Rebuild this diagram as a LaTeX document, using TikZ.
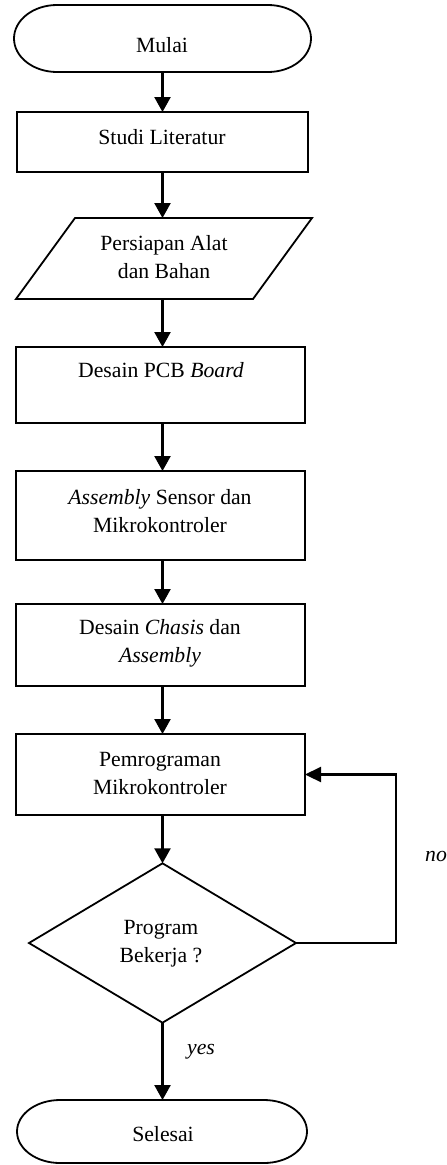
\documentclass[tikz,border=0pt]{standalone}
\usepackage{fontspec}
\setmainfont{Liberation Serif}
\usetikzlibrary{arrows.meta,calc}
\newcommand{\ls}{\rule[-9pt]{0pt}{25pt}}
\begin{document}
\begin{tikzpicture}[x=1pt,y=1pt,
  shapeline/.style={draw=black, line width=1.8pt, line join=miter},
  holder/.style={inner sep=0pt, outer sep=0pt, minimum width=#1},
  procbox/.style={draw=black, line width=1.8pt, inner sep=0pt, outer sep=0pt},
  arr/.style={line width=2.4pt, -{Triangle[width=16pt,length=15pt]}},
  flow/.style={line width=2.2pt},
  txt/.style={font=\fontsize{21.7}{28}\selectfont, align=center, inner sep=0pt},
  itxt/.style={font=\fontsize{21.7}{28}\selectfont\itshape, inner sep=0pt}
]
\fill[white] (0,0) rectangle (447,-1165);
\useasboundingbox (0,0) rectangle (447,-1165);

\coordinate (axis) at (162.5,0);
\coordinate (loopx) at (396,0);

% Mulai (terminator)
\node[holder=297, minimum height=67] (mulai) at (162.5,-38.5) {};
\draw[shapeline] ([xshift=43pt]mulai.north west) -- ([xshift=-43pt]mulai.north east)
  arc[start angle=90, end angle=-90, x radius=43pt, y radius=33.5pt]
  -- ([xshift=43pt]mulai.south west)
  arc[start angle=270, end angle=90, x radius=43pt, y radius=33.5pt] -- cycle;
\node[txt, anchor=base] (mulaiT) at (162,-52.5) {Mulai};

% Studi Literatur
\node[procbox, minimum width=291, minimum height=60] (studi) at (162.5,-142) {};
\node[txt, anchor=base] (studiT) at (162,-144) {Studi Literatur};

% Persiapan (parallelogram)
\node[holder=296, minimum height=81] (pers) at (164,-258.5) {};
\draw[shapeline] ([xshift=59pt]pers.north west) -- (pers.north east)
  -- ([xshift=-59pt]pers.south east) -- (pers.south west) -- cycle;
\node[txt] (persT) at (164,-261) {Persiapan Alat\ls\\dan Bahan\ls};

% Desain PCB Board
\node[procbox, minimum width=289, minimum height=76] (pcb) at (160.5,-385) {};
\node[txt, anchor=base] (pcbT) at (161,-377.7) {Desain PCB \textit{Board}};

% Assembly Sensor
\node[procbox, minimum width=289, minimum height=89] (asm) at (160.5,-515.5) {};
\node[txt] (asmT) at (160,-514.5) {\textit{Assembly} Sensor dan\ls\\Mikrokontroler\ls};

% Desain Chasis
\node[procbox, minimum width=289, minimum height=82] (chs) at (160.5,-645) {};
\node[txt] (chsT) at (160,-645) {Desain \textit{Chasis} dan\ls\\\textit{Assembly}\ls};

% Pemrograman
\node[procbox, minimum width=289, minimum height=81] (pem) at (160.5,-774.5) {};
\node[txt] (pemT) at (160,-776.5) {Pemrograman\ls\\Mikrokontroler\ls};

% Decision
\node[holder=267, minimum height=159.4] (dec) at (162.5,-943) {};
\draw[shapeline] (dec.north) -- (dec.east) -- (dec.south) -- (dec.west) -- cycle;
\node[txt] (decT) at (161,-945) {Program\ls\\Bekerja ?\ls};

% Selesai (terminator)
\node[holder=290, minimum height=63] (sel) at (162,-1131.5) {};
\draw[shapeline] ([xshift=43pt]sel.north west) -- ([xshift=-43pt]sel.north east)
  arc[start angle=90, end angle=-90, x radius=43pt, y radius=31.5pt]
  -- ([xshift=43pt]sel.south west)
  arc[start angle=270, end angle=90, x radius=43pt, y radius=31.5pt] -- cycle;
\node[txt, anchor=base] (selT) at (163,-1141.7) {Selesai};

% connectors
\draw[arr] (axis |- mulai.south) -- (axis |- studi.north);
\draw[arr] (axis |- studi.south) -- (axis |- pers.north);
\draw[arr] (axis |- pers.south) -- (axis |- pcb.north);
\draw[arr] (axis |- pcb.south) -- (axis |- asm.north);
\draw[arr] (axis |- asm.south) -- (axis |- chs.north);
\draw[arr] (axis |- chs.south) -- (axis |- pem.north);
\draw[arr] (axis |- pem.south) -- (dec.north);
\draw[arr] (dec.south) -- (axis |- sel.north);
\draw[flow, -{Triangle[width=15pt,length=16pt]}] (dec.east) -- (dec.east -| loopx) |- (pem.east);

% labels
\node[itxt, anchor=base] (yesT) at (201,-1054) {yes};
\node[itxt, anchor=base] (noT) at (436,-861.7) {no};
\end{tikzpicture}
\end{document}
